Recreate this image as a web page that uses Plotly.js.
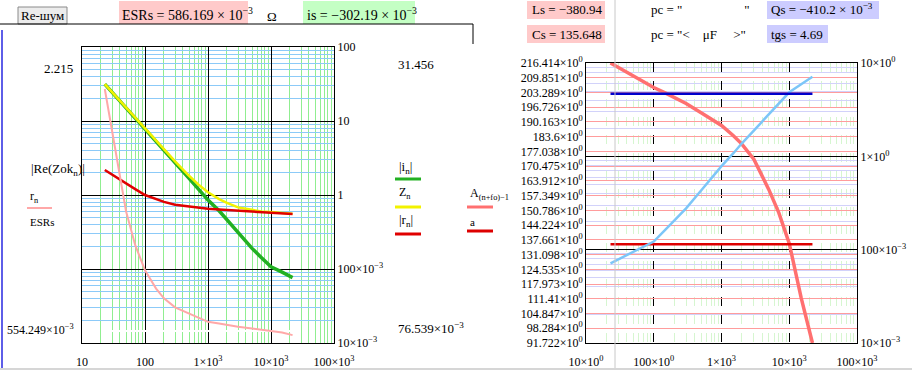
<!DOCTYPE html>
<html>
<head>
<meta charset="utf-8">
<script src="https://cdn.plot.ly/plotly-3.0.1.min.js"></script>
<style>html,body{margin:0;padding:0;background:#fff;}#chart{width:912px;height:372px;}</style>
</head>
<body>
<div id="chart"></div>
<script>
// ---------- data ----------
const freq   = [23, 30, 40, 50, 70, 100, 150, 200, 300, 500, 700, 1000, 1500, 2000, 3000, 5000, 7000, 10000, 15000, 22000];
// left plot, log axis 0.01..100
const iAbs   = [31.46, 24.5, 18.6, 15.1, 10.9, 7.8, 5.3, 4.04, 2.75, 1.68, 1.21, 0.855, 0.611, 0.461, 0.309, 0.19, 0.143, 0.107, 0.0906, 0.0765];
const zMag   = [31.5, 24.6, 18.7, 15.2, 11.0, 7.86, 5.37, 4.12, 2.85, 1.82, 1.39, 1.09, 0.88, 0.78, 0.68, 0.63, 0.60, 0.587, 0.572, 0.558];
const rAbs   = [2.18, 1.88, 1.60, 1.43, 1.20, 1.0, 0.88, 0.807, 0.74, 0.70, 0.678, 0.653, 0.637, 0.628, 0.61, 0.596, 0.586, 0.577, 0.565, 0.553];
// left plot, left axis (log 0.554249..2.215)
const rN     = [1.82, 1.49, 1.205, 1.027, 0.876, 0.779, 0.715, 0.683, 0.655, 0.636, 0.624, 0.612, 0.607, 0.603, 0.598, 0.593, 0.590, 0.586, 0.582, 0.575];
const ESRs   = 0.586169;
const leftLimLo = 0.554249, leftLimHi = 2.215;
// right plot, left axis (linear)
const aCap   = [216.4, 214.4, 212.3, 210.6, 208.1, 205.5, 203.0, 201.1, 198.4, 194.3, 191.6, 188.6, 184.0, 180.3, 173.6, 160.0, 149.8, 136.1, 111.8, 91.72];
const Cs     = 135.648;
// right plot, right axis (log 0.01..10)
const tgN    = [0.0715, 0.0787, 0.0875, 0.0949, 0.1074, 0.1222, 0.165, 0.204, 0.277, 0.431, 0.576, 0.785, 1.08, 1.38, 1.89, 2.82, 3.66, 4.85, 5.91, 7.13];
const tgs    = 4.69;

// tick labels
const decadeVals = [10, 100, 1000, 10000, 100000];
const xLabelsLeft  = ['10', '100', '1×10<sup>3</sup>', '10×10<sup>3</sup>', '100×10<sup>3</sup>'];
const xLabelsRight = ['10×10<sup>0</sup>', '100×10<sup>0</sup>', '1×10<sup>3</sup>', '10×10<sup>3</sup>', '100×10<sup>3</sup>'];
const yValsLeftR   = [0.01, 0.1, 1, 10, 100];
const yLabelsLeftR = ['10×10<sup>−3</sup>', '100×10<sup>−3</sup>', '1', '10', '100'];
const capTicks = ['91.722', '98.284', '104.847', '111.41', '117.973', '124.535', '131.098', '137.661', '144.224', '150.786',
                  '157.349', '163.912', '170.475', '177.038', '183.6', '190.163', '196.726', '203.289', '209.851', '216.414'];
const yValsRightR   = [0.01, 0.1, 1, 10];
const yLabelsRightR = ['10×10<sup>−3</sup>', '100×10<sup>−3</sup>', '1×10<sup>0</sup>', '10×10<sup>0</sup>'];

// ---------- helpers ----------
const W = 912, H = 372;
const P = x => x / W, Q = y => 1 - y / H;
function minorLog(d0, d1) { const v = []; for (let d = d0; d < d1; d++) for (let k = 2; k <= 9; k++) v.push(k * Math.pow(10, d)); return v; }
const SERIF = 'Liberation Serif, Times New Roman, serif';
const tf = {family: SERIF, size: 12, color: '#000'};

const traces = [
  {x: freq, y: iAbs, xaxis: 'x', yaxis: 'y', mode: 'lines', line: {color: '#22b022', width: 3.5}},
  {x: freq, y: zMag, xaxis: 'x', yaxis: 'y', mode: 'lines', line: {color: '#f2f200', width: 2.5}},
  {x: freq, y: rAbs, xaxis: 'x', yaxis: 'y', mode: 'lines', line: {color: '#e00000', width: 2.5}},
  {x: freq, y: freq.map(() => ESRs), xaxis: 'x', yaxis: 'y2', mode: 'lines', line: {color: '#ffffff', width: 2}},
  {x: freq, y: rN, xaxis: 'x', yaxis: 'y2', mode: 'lines', line: {color: '#ffa8a8', width: 2}},
  {x: freq, y: aCap, xaxis: 'x2', yaxis: 'y3', mode: 'lines', line: {color: '#ff7070', width: 3.5}},
  {x: freq, y: freq.map(() => Cs), xaxis: 'x2', yaxis: 'y3', mode: 'lines', line: {color: '#dd0000', width: 2.5}},
  {x: freq, y: tgN, xaxis: 'x2', yaxis: 'y4', mode: 'lines', line: {color: '#7cc6f8', width: 2.5}},
  {x: freq, y: freq.map(() => tgs), xaxis: 'x2', yaxis: 'y4', mode: 'lines', line: {color: '#0000cc', width: 2.5}}
];

const common = {showline: true, linecolor: '#000', linewidth: 1, ticks: '', zeroline: false, tickfont: tf, fixedrange: true};

const layout = {
  width: W, height: H, margin: {l: 0, r: 0, t: 0, b: 0},
  paper_bgcolor: '#fff', plot_bgcolor: '#fff', showlegend: false,
  xaxis: Object.assign({}, common, {type: 'log', range: [1, 5], domain: [P(82), P(334)], anchor: 'y', mirror: true,
    tickmode: 'array', tickvals: decadeVals, ticktext: xLabelsLeft, ticklabelstandoff: 8,
    showgrid: true, gridcolor: '#000', gridwidth: 1,
    minor: {tickmode: 'array', tickvals: minorLog(1, 5), showgrid: true, gridcolor: '#90ee90', gridwidth: 1, ticks: ''}}),
  yaxis: Object.assign({}, common, {type: 'log', range: [-2, 2], domain: [Q(343), Q(47)], anchor: 'x', side: 'right', mirror: true,
    tickmode: 'array', tickvals: yValsLeftR, ticktext: yLabelsLeftR,
    showgrid: true, gridcolor: '#000', gridwidth: 1,
    minor: {tickmode: 'array', tickvals: minorLog(-2, 2), showgrid: true, gridcolor: '#8ccaf8', gridwidth: 1, ticks: ''}}),
  yaxis2: {type: 'log', range: [Math.log10(leftLimLo), Math.log10(leftLimHi)], overlaying: 'y', side: 'left', anchor: 'x',
    showgrid: false, showticklabels: false, ticks: '', showline: false, zeroline: false, fixedrange: true},
  xaxis2: Object.assign({}, common, {type: 'log', range: [1, 5], domain: [P(586), P(857)], anchor: 'y3', mirror: true,
    tickmode: 'array', tickvals: decadeVals, ticktext: xLabelsRight, ticklabelstandoff: 8,
    showgrid: true, gridcolor: '#000', gridwidth: 1, griddash: 'dash',
    minor: {tickmode: 'array', tickvals: minorLog(1, 5), showgrid: true, gridcolor: '#d6f6d0', gridwidth: 1, ticks: ''}}),
  yaxis3: Object.assign({}, common, {type: 'linear', range: [91.722, 216.414], domain: [Q(343), Q(63)], anchor: 'x2', side: 'left', mirror: true,
    tickmode: 'array', tickvals: capTicks.map(Number), ticktext: capTicks.map(s => s + '×10<sup>0</sup>'),
    showgrid: true, gridcolor: '#ff9c9c', gridwidth: 1}),
  yaxis4: Object.assign({}, common, {type: 'log', range: [-2, 1], overlaying: 'y3', anchor: 'x2', side: 'right',
    tickmode: 'array', tickvals: yValsRightR, ticktext: yLabelsRightR,
    showgrid: true, gridcolor: '#000', gridwidth: 1,
    minor: {tickmode: 'array', tickvals: minorLog(-2, 1), showgrid: true, gridcolor: '#d2d2fa', gridwidth: 1, ticks: ''}}),
  shapes: [],
  annotations: []
};

function rect(x0, y0, x1, y1, fill, line) {
  layout.shapes.push({type: 'rect', xref: 'paper', yref: 'paper', x0: P(x0), x1: P(x1), y0: Q(y1), y1: Q(y0),
    fillcolor: fill, line: line || {width: 0}, layer: 'below'});
}
function seg(x0, y0, x1, y1, color, width) {
  layout.shapes.push({type: 'line', xref: 'paper', yref: 'paper', x0: P(x0), x1: P(x1), y0: Q(y0), y1: Q(y1),
    line: {color: color, width: width}});
}
function txt(x, y, text, anchor, size) {
  layout.annotations.push({xref: 'paper', yref: 'paper', x: P(x), y: Q(y), text: text, showarrow: false,
    xanchor: anchor || 'left', yanchor: 'middle', font: {family: SERIF, size: size || 13, color: '#000'}});
}

// backgrounds / frames
rect(18, 7, 67, 24, '#ececec', {color: '#8a8a8a', width: 1});
rect(119, 1, 248, 24, '#ffcaca');
rect(303, 1, 415, 24, '#c4ffc4');
rect(527, 1, 605, 19, '#ffcaca');
rect(527, 25, 605, 43, '#ffcaca');
rect(767, 1, 879, 19, '#ccccff');
rect(767, 25, 828, 43, '#ccccff');
seg(0, 24, 473, 24, '#000', 1);
seg(473, 24, 473, 44, '#000', 1);
seg(2, 30, 2, 368, '#2828e0', 1.5);
seg(615, 0, 615, 368, '#c8c8c8', 1);
seg(0, 369, 912, 369, '#d6d6d6', 2);
// legend swatches
seg(27, 208, 52, 208, '#ffa8a8', 2);
seg(395, 179, 421, 179, '#22b022', 3);
seg(395, 207, 421, 207, '#f2f200', 3);
seg(395, 234, 421, 234, '#e00000', 3);
seg(467, 207, 493, 207, '#ff7070', 3);
seg(467, 231, 493, 231, '#dd0000', 3);

// texts
const NB = '\u00a0';
txt(42.5, 15.5, 'Re-шум', 'center', 13);
txt(120, 14, 'ESRs = 586.169 × 10<sup>−3</sup>', 'left', 14);
txt(265, 17, 'Ω', 'left', 13);
txt(305, 14, 'is = −302.19 × 10<sup>−3</sup>', 'left', 14);
txt(530, 10, 'Ls = −380.94', 'left', 13);
txt(530, 34, 'Cs = 135.648', 'left', 13);
txt(649, 10, 'pc = "' + NB.repeat(19) + '"', 'left', 13);
txt(649, 34, 'pc = "&lt;' + NB.repeat(4) + 'μF' + NB.repeat(5) + '&gt;"', 'left', 13);
txt(769, 9, 'Qs = −410.2 × 10<sup>−3</sup>', 'left', 13);
txt(769, 34, 'tgs = 4.69', 'left', 13);

txt(75, 68, '2.215', 'right', 13);
txt(76, 329, '554.249×10<sup>−3</sup>', 'right', 12);
txt(29, 169, '|Re(Zok<sub>n</sub>)|', 'left', 13);
txt(28, 197, 'r<sub>n</sub>', 'left', 12);
txt(28, 222, 'ESRs', 'left', 11);
txt(396, 64, '31.456', 'left', 13);
txt(396, 328, '76.539×10<sup>−3</sup>', 'left', 13);
txt(397, 167, '|i<sub>n</sub>|', 'left', 13);
txt(397, 193, 'Z<sub>n</sub>', 'left', 12);
txt(397, 220, '|r<sub>n</sub>|', 'left', 13);
txt(468, 194, 'A<sub>(n+fo)−1</sub>', 'left', 12);
txt(468, 222, 'a', 'left', 11);

Plotly.newPlot('chart', traces, layout, {staticPlot: true, displayModeBar: false});
</script>
</body>
</html>
